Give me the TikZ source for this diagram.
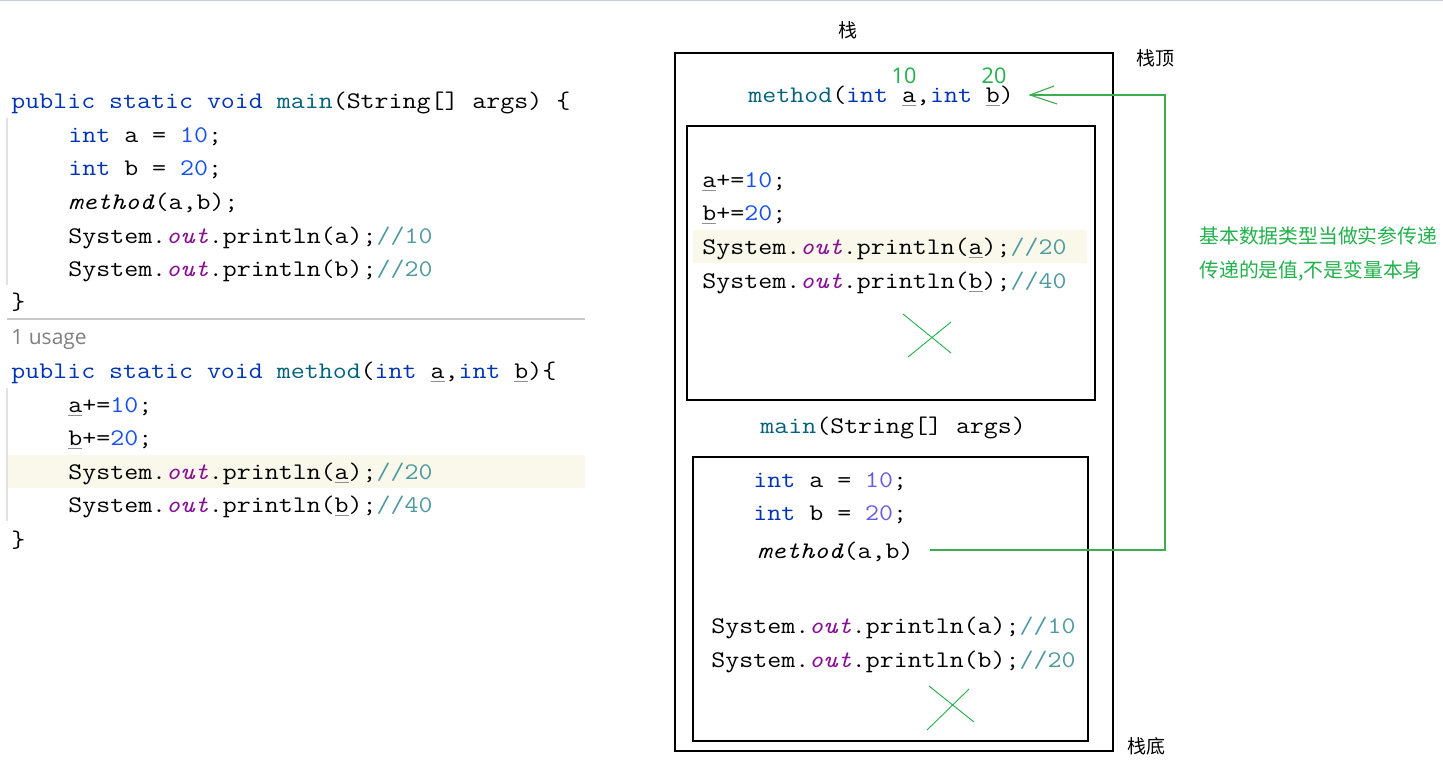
\documentclass[tikz,border=0pt]{standalone}
\usepackage{fontspec}
\setmonofont{Latin Modern Mono}[FakeStretch=1.14]
\setsansfont{Open Sans}
\newfontfamily\cjk{Noto Sans CJK SC}
\definecolor{kwblue}{HTML}{0033B3}
\definecolor{fnteal}{HTML}{00627A}
\definecolor{numblue}{HTML}{1750EB}
\definecolor{numlav}{HTML}{6A5CE0}
\definecolor{cmt}{HTML}{4E9A9E}
\definecolor{outpurple}{HTML}{871094}
\definecolor{ulgray}{HTML}{909090}
\definecolor{hilite}{HTML}{FAF8EA}
\definecolor{gutter}{HTML}{E2E2E2}
\definecolor{sepgray}{HTML}{C8C8C8}
\definecolor{usagegray}{HTML}{808080}
\definecolor{topline}{HTML}{C5D0E0}
\definecolor{notegreen}{HTML}{22B14C}
\definecolor{linegreen}{HTML}{3CAE50}
\newcommand\codefont{\fontsize{11.9pt}{14pt}\selectfont\ttfamily}
\newcommand\kw[1]{\textcolor{kwblue}{#1}}
\newcommand\fn[1]{\textcolor{fnteal}{#1}}
\newcommand\nm[1]{\textcolor{numblue}{#1}}
\newcommand\nl[1]{\textcolor{numlav}{#1}}
\newcommand\cm[1]{\textcolor{cmt}{#1}}
\newcommand\outw{\textcolor{outpurple}{\itshape out}}
\newcommand\uv[1]{{\color{ulgray}\underline{\color{black}#1}}}
\tikzset{
  code/.style={anchor=base west, inner sep=0pt, font=\codefont},
  frame/.style={draw=black, line width=0.55pt},
  conn/.style={draw=linegreen, line width=0.55pt},
  cross/.style={draw=notegreen, line width=0.45pt},
  cjklabel/.style={inner sep=0pt, font=\cjk\fontsize{9.5pt}{11pt}\selectfont},
  note/.style={anchor=base west, inner sep=0pt, text=notegreen, font=\cjk\fontsize{9.9pt}{11pt}\selectfont},
  valnum/.style={inner sep=0pt, text=notegreen, font=\sffamily\fontsize{10.8pt}{11pt}\selectfont},
}
\begin{document}
\begin{tikzpicture}[x=0.5pt,y=-0.5pt]
\useasboundingbox (0,0) rectangle (1443,771);
\fill[white] (0,0) rectangle (1443,771);
\draw[topline, line width=0.8pt] (0,0.7) -- (1443,0.7);

% ---------- left: source code ----------
\fill[hilite] (7,455) rectangle (585,488);
\draw[gutter, line width=0.6pt] (7,118) -- (7,285);
\draw[gutter, line width=0.6pt] (7,388) -- (7,521);
\draw[sepgray, line width=0.6pt] (7,319) -- (585,319);

\node[code] (l1) at (11,108) {\kw{public static void} \fn{main}(String[] args) \{};
\node[code] (l2) at (68,142) {\kw{int} a = \nm{10};};
\node[code] (l3) at (68,175) {\kw{int} b = \nm{20};};
\node[code] (l4) at (68,209) {\textit{method}(a,b);};
\node[code] (l5) at (68,243) {System.\outw.println(a);\cm{//10}};
\node[code] (l6) at (68,276) {System.\outw.println(b);\cm{//20}};
\node[code] (l7) at (11,309) {\}};
\node[anchor=base west, inner sep=0pt, text=usagegray, font=\sffamily\fontsize{10.5pt}{12pt}\selectfont] (usage) at (11,344) {1 usage};
\node[code] (m1) at (11,378) {\kw{public static void} \fn{method}(\kw{int} \uv{a},\kw{int} \uv{b})\{};
\node[code] (m2) at (68,412) {\uv{a}+=\nm{10};};
\node[code] (m3) at (68,445) {\uv{b}+=\nm{20};};
\node[code] (m4) at (68,479) {System.\outw.println(\uv{a});\cm{//20}};
\node[code] (m5) at (68,512) {System.\outw.println(\uv{b});\cm{//40}};
\node[code] (m6) at (11,547) {\}};

% ---------- right: stack ----------
\node[cjklabel] (stack) at (848,30) {栈};
\draw[frame] (675,53) rectangle (1113,751);
\node[cjklabel] (top) at (1155,58) {栈顶};
\node[cjklabel] (bottom) at (1146,746) {栈底};

\node[code] (mhead) at (748,102) {\fn{method}(\kw{int} \uv{a},\kw{int} \uv{b})};
\node[valnum] (va) at (904,76) {10};
\node[valnum] (vb) at (994,76) {20};

\fill[hilite] (693,230) rectangle (1087,263);
\draw[frame] (687,126) rectangle (1095,400);
\node[code] (r1) at (702,187) {\uv{a}+=\nm{10};};
\node[code] (r2) at (702,220) {\uv{b}+=\nm{20};};
\node[code] (r3) at (702,254) {System.\outw.println(\uv{a});\cm{//20}};
\node[code] (r4) at (702,288) {System.\outw.println(\uv{b});\cm{//40}};
\draw[cross] (903,314) -- (951,353);
\draw[cross] (908,357) -- (951,322);

\node[code] (mainhead) at (760,433) {\fn{main}(String[] args)};
\draw[frame] (693,457) rectangle (1088,741);
\node[code] (s1) at (753,487) {\kw{int} a = \nl{10};};
\node[code] (s2) at (753,520) {\kw{int} b = \nl{20};};
\node[code] (mcall) at (757,558) {\textit{method}(a,b)};
\node[code] (s4) at (711,633) {System.\outw.println(a);\cm{//10}};
\node[code] (s5) at (711,667) {System.\outw.println(b);\cm{//20}};
\draw[cross] (929,686) -- (974,722);
\draw[cross] (927,730) -- (969,689);

% ---------- connector ----------
\coordinate (callend) at (930,550);
\coordinate (c1) at (1165,550);
\coordinate (c2) at (1165,95);
\coordinate (tip) at (1030,95);
\draw[conn] (callend) -- (c1) -- (c2) -- (tip);
\draw[conn] (1054,86) -- (tip) -- (1057,104);

\node[note] (n1) at (1199,243) {基本数据类型当做实参传递};
\node[note] (n2) at (1199,277) {传递的是值,不是变量本身};
\end{tikzpicture}
\end{document}
